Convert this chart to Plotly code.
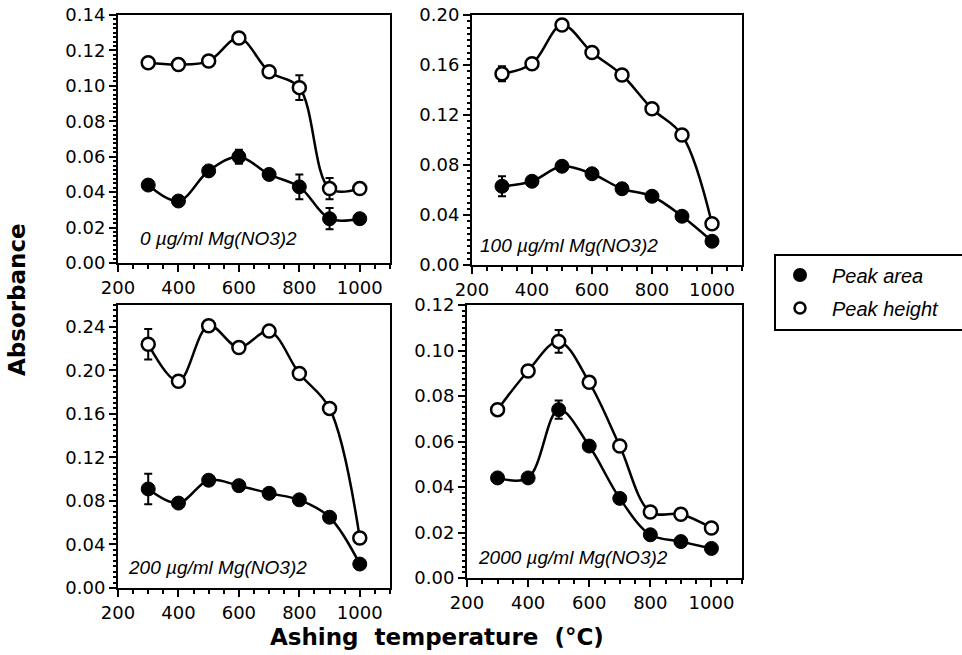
import plotly.graph_objects as go

# ---------------- data ----------------
temps = [300, 400, 500, 600, 700, 800, 900, 1000]

panel_labels = ["0 \u00b5g/ml Mg(NO3)2", "100 \u00b5g/ml Mg(NO3)2",
                "200 \u00b5g/ml Mg(NO3)2", "2000 \u00b5g/ml Mg(NO3)2"]

height_0 = [0.113, 0.112, 0.114, 0.127, 0.108, 0.099, 0.042, 0.042]
height_0_err = [0, 0, 0, 0.002, 0, 0.007, 0.006, 0]
area_0 = [0.044, 0.035, 0.052, 0.060, 0.050, 0.043, 0.025, 0.025]
area_0_err = [0, 0, 0, 0.004, 0, 0.007, 0.006, 0]

height_100 = [0.153, 0.161, 0.192, 0.170, 0.152, 0.125, 0.104, 0.033]
height_100_err = [0.006, 0, 0.002, 0, 0.003, 0, 0, 0]
area_100 = [0.063, 0.067, 0.079, 0.073, 0.061, 0.055, 0.039, 0.019]
area_100_err = [0.008, 0, 0, 0, 0.004, 0, 0, 0]

height_200 = [0.224, 0.190, 0.241, 0.221, 0.236, 0.197, 0.165, 0.046]
height_200_err = [0.014, 0, 0, 0, 0, 0, 0, 0]
area_200 = [0.091, 0.078, 0.099, 0.094, 0.087, 0.081, 0.065, 0.022]
area_200_err = [0.014, 0, 0, 0, 0, 0, 0.003, 0]

height_2000 = [0.074, 0.091, 0.104, 0.086, 0.058, 0.029, 0.028, 0.022]
height_2000_err = [0, 0, 0.005, 0, 0, 0, 0, 0]
area_2000 = [0.044, 0.044, 0.074, 0.058, 0.035, 0.019, 0.016, 0.013]
area_2000_err = [0, 0, 0.004, 0, 0, 0, 0, 0]

y_max = [0.14, 0.20, 0.26, 0.12]
y_dtick = [0.02, 0.04, 0.04, 0.02]
y_minor = [0.0025, 0.005, 0.005, 0.0025]
x_ticks = [200, 400, 600, 800, 1000]

series_height = [height_0, height_100, height_200, height_2000]
series_height_err = [height_0_err, height_100_err, height_200_err, height_2000_err]
series_area = [area_0, area_100, area_200, area_2000]
series_area_err = [area_0_err, area_100_err, area_200_err, area_2000_err]

# ---------------- layout geometry (pixels) ----------------
W, H = 962, 655
boxes = [  # left, right, top, bottom
    (118, 390, 15, 263),
    (472, 742, 15, 265),
    (118, 390, 305, 588),
    (467, 742, 305, 578),
]
label_pos = [(138, 238), (478, 245), (126, 567), (476, 557)]

TICKFONT = dict(family="DejaVu Sans", size=18, color="black")
ANNFONT = dict(family="Liberation Sans", size=19, color="black", style="italic")
TITLEFONT = dict(family="DejaVu Sans", size=23, color="black", weight="bold")


def px_x(x):
    return x / W


def px_y(y):
    return 1 - y / H


fig = go.Figure()
layout = {}
for i in range(4):
    n = "" if i == 0 else str(i + 1)
    xa, ya = "x" + n, "y" + n
    l, r, t, b = boxes[i]
    layout["xaxis" + n] = dict(
        domain=[px_x(l), px_x(r)], anchor=ya, range=[200, 1100],
        automargin=False, ticklabeloverflow="allow",
        tickvals=x_ticks, ticks="outside", ticklen=7, tickwidth=2,
        tickcolor="black", showline=True, linecolor="black", linewidth=2,
        mirror=True, showgrid=False, zeroline=False, tickfont=TICKFONT,
        minor=dict(dtick=50, tick0=200, ticks="outside", ticklen=4,
                   tickwidth=1.5, tickcolor="black", showgrid=False),
    )
    layout["yaxis" + n] = dict(
        domain=[px_y(b), px_y(t)], anchor=xa, range=[0, y_max[i]],
        automargin=False, ticklabeloverflow="allow",
        dtick=y_dtick[i], tick0=0, tickformat=".2f", ticks="outside",
        ticklen=7, tickwidth=2, tickcolor="black", showline=True,
        linecolor="black", linewidth=2, mirror=True, showgrid=False,
        zeroline=False, tickfont=TICKFONT,
        minor=dict(dtick=y_minor[i], tick0=0, ticks="outside", ticklen=3,
                   tickwidth=1.5, tickcolor="black", showgrid=False),
    )

    fig.add_trace(go.Scatter(
        x=temps, y=series_area[i], xaxis=xa, yaxis=ya,
        mode="lines+markers", name="Peak area", showlegend=False,
        line=dict(color="black", width=2.5, shape="spline"),
        marker=dict(symbol="circle", size=14, color="black",
                    line=dict(color="black", width=1)),
        error_y=dict(type="data", array=series_area_err[i], color="black",
                     thickness=2, width=4),
    ))
    fig.add_trace(go.Scatter(
        x=temps, y=series_height[i], xaxis=xa, yaxis=ya,
        mode="lines+markers", name="Peak height", showlegend=False,
        line=dict(color="black", width=2.5, shape="spline"),
        marker=dict(symbol="circle", size=13, color="white",
                    line=dict(color="black", width=2.5)),
        error_y=dict(type="data", array=series_height_err[i], color="black",
                     thickness=2, width=4),
    ))

# legend entries (marker only, as in the reference key)
fig.add_trace(go.Scatter(
    x=[None], y=[None], mode="markers", name="Peak area", legend="legend",
    marker=dict(symbol="circle", size=14, color="black"), showlegend=True))
fig.add_trace(go.Scatter(
    x=[None], y=[None], mode="markers", name="Peak height", legend="legend2",
    marker=dict(symbol="circle", size=11, color="white",
                line=dict(color="black", width=2.5)), showlegend=True))

annotations = []
for i in range(4):
    lx, ly = label_pos[i]
    annotations.append(dict(
        text=panel_labels[i], x=px_x(lx), y=px_y(ly), xref="paper",
        yref="paper", xanchor="left", yanchor="middle", showarrow=False,
        font=ANNFONT))

annotations.append(dict(
    text="Absorbance", x=px_x(17), y=px_y(300), xref="paper", yref="paper",
    xanchor="center", yanchor="middle", textangle=-90, showarrow=False,
    font=TITLEFONT))
annotations.append(dict(
    text="Ashing&nbsp; temperature&nbsp; (\u00b0C)", x=px_x(437), y=px_y(637),
    xref="paper", yref="paper", xanchor="center", yanchor="middle",
    showarrow=False, font=TITLEFONT))

LEGFONT = dict(family="Liberation Sans", size=20, color="black", style="italic")
legend_common = dict(xanchor="left", yanchor="middle", bgcolor="rgba(0,0,0,0)",
                     borderwidth=0, font=LEGFONT, itemwidth=54,
                     itemclick=False, itemdoubleclick=False)

fig.update_layout(
    width=W, height=H, margin=dict(l=0, r=0, t=0, b=0),
    paper_bgcolor="white", plot_bgcolor="white",
    annotations=annotations,
    legend=dict(x=px_x(768), y=px_y(275), **legend_common),
    legend2=dict(x=px_x(768), y=px_y(308), **legend_common),
    shapes=[dict(type="rect", xref="paper", yref="paper",
                 x0=px_x(775), x1=px_x(975), y0=px_y(330), y1=px_y(255),
                 line=dict(color="black", width=2))],
    **layout,
)

# place the figure at the window's top-left corner (no default page margin)
fig.write_html("out.html",
               config={"displayModeBar": False},
               post_script="document.body.style.margin='0px';"
                           "document.body.style.overflow='hidden';")
